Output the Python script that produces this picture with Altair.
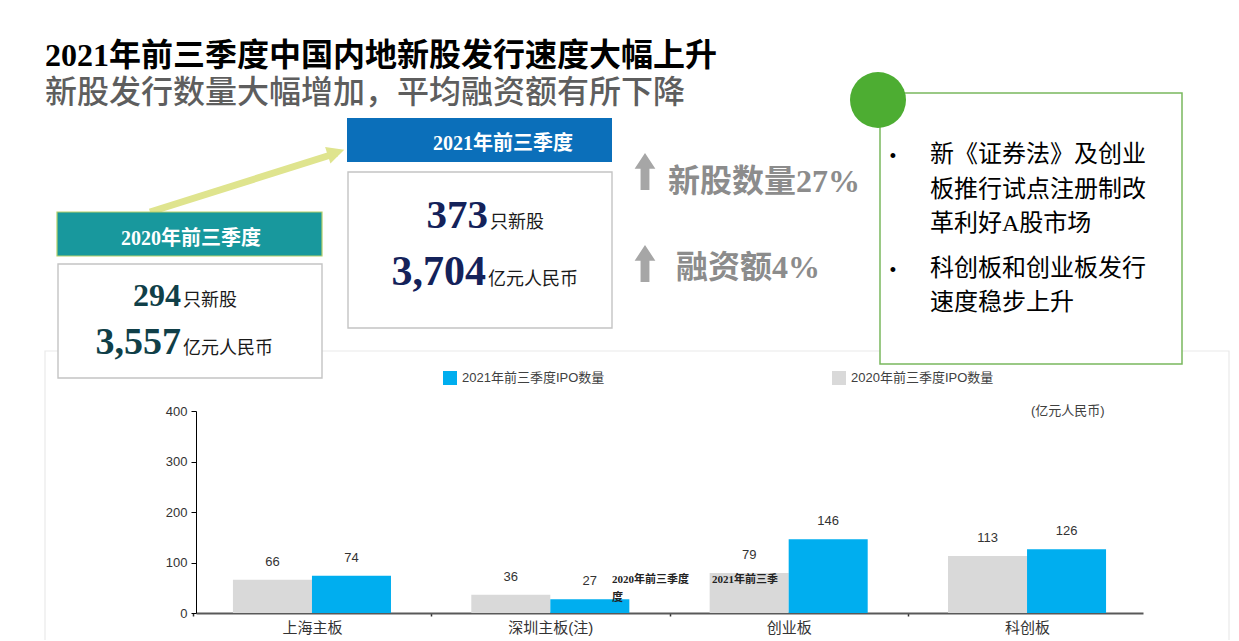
import altair as alt
import pandas as pd

# ---------------- data ----------------
categories = ["上海主板", "深圳主板(注)", "创业板", "科创板"]
ipo_2020 = [66, 36, 79, 113]
ipo_2021 = [74, 27, 146, 126]
series = ["2020年前三季度IPO数量", "2021年前三季度IPO数量"]
series_colors = ["#d9d9d9", "#00aeef"]
legend_order = [1, 0]
y_ticks = [0, 100, 200, 300, 400]
unit_label = "(亿元人民币)"

title_main = "2021年前三季度中国内地新股发行速度大幅上升"
title_sub = "新股发行数量大幅增加，平均融资额有所下降"

periods = ["2020年前三季度", "2021年前三季度"]
ipo_counts = ["294", "373"]
ipo_amounts = ["3,557", "3,704"]
count_unit = "只新股"
amount_unit = "亿元人民币"
growth_labels = ["新股数量27%", "融资额4%"]
bullet_lines = [
    ["新《证券法》及创业", "板推行试点注册制改", "革利好A股市场"],
    ["科创板和创业板发行", "速度稳步上升"],
]
stray_labels = ["2020年前三季度", "度", "2021年前三季"]

# ---------------- layout ----------------
W, H = 947, 202
PAD_L, PAD_T = 188, 403
TOTAL_W, TOTAL_H = 1223, 632
PAD_R = TOTAL_W - PAD_L - W
PAD_B = TOTAL_H - PAD_T - H


def X(x):
    return x - 8 - PAD_L


def Y(y):
    return y - 8 - PAD_T


one = pd.DataFrame({"k": [0]})
SANS = "Liberation Sans, Noto Sans CJK SC, sans-serif"
CJK = "Noto Sans CJK SC, sans-serif"
MIX = "Liberation Serif, Noto Sans CJK SC, serif"


def rect(x1, y1, x2, y2, fill=None, stroke=None, sw=1.0):
    kw = {}
    if fill is None:
        kw["fill"] = "#ffffff"
        kw["fillOpacity"] = 0
    else:
        kw["fill"] = fill
    if stroke is not None:
        kw["stroke"] = stroke
        kw["strokeWidth"] = sw
    return alt.Chart(one).mark_rect(**kw).encode(
        x=alt.value(X(x1)), x2=alt.value(X(x2)),
        y=alt.value(Y(y1)), y2=alt.value(Y(y2)))


def txt(s, x, y, size, color, font=SANS, weight="normal", align="left",
        baseline="alphabetic"):
    return alt.Chart(one).mark_text(
        text=s, fontSize=size, color=color, font=font, fontWeight=weight,
        align=align, baseline=baseline).encode(
        x=alt.value(X(x)), y=alt.value(Y(y)))


layers = []

# chart panel (faint card)
layers.append(rect(45, 351, 1229, 660, stroke="#e9e9e9", sw=1.2))

# titles
layers.append(txt(title_main, 45, 66, 32, "#000000", font=MIX, weight="bold"))
layers.append(txt(title_sub, 45, 103, 32, "#5e5e5e", font=CJK, weight=500))

# arrow between summary boxes
layers.append(alt.Chart(one).mark_rule(color="#dfe48e", strokeWidth=7).encode(
    x=alt.value(X(150)), y=alt.value(Y(212)),
    x2=alt.value(X(337)), y2=alt.value(Y(153))))
layers.append(alt.Chart(one).mark_point(
    shape="M -1 -1 L 1 0 L -1 1 Z", filled=True, size=300, angle=342,
    color="#dfe48e", opacity=1).encode(
    x=alt.value(X(336)), y=alt.value(Y(152.5))))

# 2020 summary
layers.append(rect(57, 212, 322, 256, fill="#18989d", stroke="#b3cf6a", sw=1.2))
layers.append(txt(periods[0], 191, 245, 20, "#ffffff", font=MIX, weight="bold",
                  align="center"))
layers.append(rect(58, 264, 322, 378, fill="#ffffff", stroke="#c4c4c4", sw=1.4))
layers.append(txt(ipo_counts[0], 181, 306, 32, "#103f48", font=MIX,
                  weight="bold", align="right"))
layers.append(txt(count_unit, 183, 306, 18, "#1a1a1a", font=CJK, align="left"))
layers.append(txt(ipo_amounts[0], 181, 354, 38, "#103f48", font=MIX,
                  weight="bold", align="right"))
layers.append(txt(amount_unit, 183, 354, 18, "#1a1a1a", font=CJK, align="left"))

# 2021 summary
layers.append(rect(347, 118, 612, 162, fill="#0b6fba"))
layers.append(txt(periods[1], 503, 150, 20, "#ffffff", font=MIX, weight="bold",
                  align="center"))
layers.append(rect(348, 172, 612, 328, fill="#ffffff", stroke="#c4c4c4", sw=1.4))
layers.append(txt(ipo_counts[1], 488, 228, 41, "#14225a", font=MIX,
                  weight="bold", align="right"))
layers.append(txt(count_unit, 490, 228, 18, "#1a1a1a", font=CJK, align="left"))
layers.append(txt(ipo_amounts[1], 486, 285, 42, "#14225a", font=MIX,
                  weight="bold", align="right"))
layers.append(txt(amount_unit, 488, 285, 18, "#1a1a1a", font=CJK, align="left"))

# growth arrows
up_arrow = "M -0.24 1 L -0.24 -0.15 L -0.56 -0.15 L 0 -1 L 0.56 -0.15 L 0.24 -0.15 L 0.24 1 Z"
for cy in (171.5, 263.5):
    layers.append(alt.Chart(one).mark_point(
        shape=up_arrow, filled=True, size=1369, color="#a6a6a6",
        opacity=1).encode(x=alt.value(X(645)), y=alt.value(Y(cy))))
layers.append(txt(growth_labels[0], 668, 192, 32, "#8c8c8c", font=MIX,
                  weight="bold"))
layers.append(txt(growth_labels[1], 676, 278, 32, "#8c8c8c", font=MIX,
                  weight="bold"))

# right note box
layers.append(rect(880, 93, 1182, 364, fill="#ffffff", stroke="#79b85e", sw=1.5))
layers.append(alt.Chart(one).mark_point(
    shape="circle", filled=True, size=3136, color="#4dad32", opacity=1).encode(
    x=alt.value(X(878)), y=alt.value(Y(100))))
line_baselines = [[162, 197, 231], [276, 310]]
for lines, bls in zip(bullet_lines, line_baselines):
    layers.append(txt("•", 893, bls[0], 18, "#000000", font=SANS, align="center"))
    for s, b in zip(lines, bls):
        layers.append(txt(s, 930, b, 24, "#000000", font=MIX))

# legend (manual, in the reference's order)
leg_x = [443, 832]
for pos, idx in zip(leg_x, legend_order):
    layers.append(rect(pos, 371, pos + 14, 385, fill=series_colors[idx]))
    layers.append(txt(series[idx], pos + 19, 378, 13, "#404040", font=SANS,
                      baseline="middle"))
layers.append(txt(unit_label, 1031, 411, 13, "#404040", font=SANS,
                  baseline="middle"))

# ---------------- bar chart ----------------
df = pd.DataFrame({
    "板块": categories * 2,
    "年份": [series[0]] * len(categories) + [series[1]] * len(categories),
    "数量": ipo_2020 + ipo_2021,
})

xenc = alt.X(
    "板块:N", sort=categories,
    scale=alt.Scale(paddingInner=0.337, paddingOuter=0.155),
    axis=alt.Axis(title=None, labelFont=SANS, labelFontSize=15,
                  labelColor="#333333", labelAngle=0, labelPadding=4,
                  domainColor="#595959", domainWidth=2,
                  bandPosition=0, tickOffset=-40, labelOffset=40,
                  tickSize=3, tickWidth=1.5, tickColor="#333333"))
xoff = alt.XOffset("年份:N", sort=series,
                   scale=alt.Scale(paddingInner=0, paddingOuter=0))
yenc = alt.Y(
    "数量:Q", scale=alt.Scale(domain=[0, 400], nice=False),
    axis=alt.Axis(title=None, values=y_ticks, grid=False, domainColor="#000000",
                  tickColor="#000000", tickSize=5, labelFont=SANS,
                  labelFontSize=13, labelColor="#333333", labelPadding=4))
cenc = alt.Color("年份:N", sort=series,
                 scale=alt.Scale(domain=series, range=series_colors),
                 legend=None)

bars = alt.Chart(df).mark_bar().encode(x=xenc, xOffset=xoff, y=yenc, color=cenc)
values = alt.Chart(df).mark_text(
    baseline="bottom", dy=-11, fontSize=13, color="#333333", font=SANS).encode(
    x=xenc, xOffset=xoff, y=yenc, text="数量:Q")
layers.append(bars)
layers.append(values)

# stray series-name labels seen on the slide
layers.append(txt(stray_labels[0], 612, 580, 11, "#222222", font=MIX,
                  weight="bold", baseline="middle"))
layers.append(txt(stray_labels[1], 612, 598, 11, "#222222", font=MIX,
                  weight="bold", baseline="middle"))
layers.append(txt(stray_labels[2], 712, 580, 11, "#222222", font=MIX,
                  weight="bold", baseline="middle"))

chart = alt.layer(*layers).properties(
    width=W, height=H,
    padding={"left": PAD_L, "top": PAD_T, "right": PAD_R, "bottom": PAD_B},
    autosize=alt.AutoSizeParams(type="none"),
    background="#ffffff",
).configure_view(stroke=None)

chart.save("out.html", embed_options={"renderer": "svg", "actions": False})
